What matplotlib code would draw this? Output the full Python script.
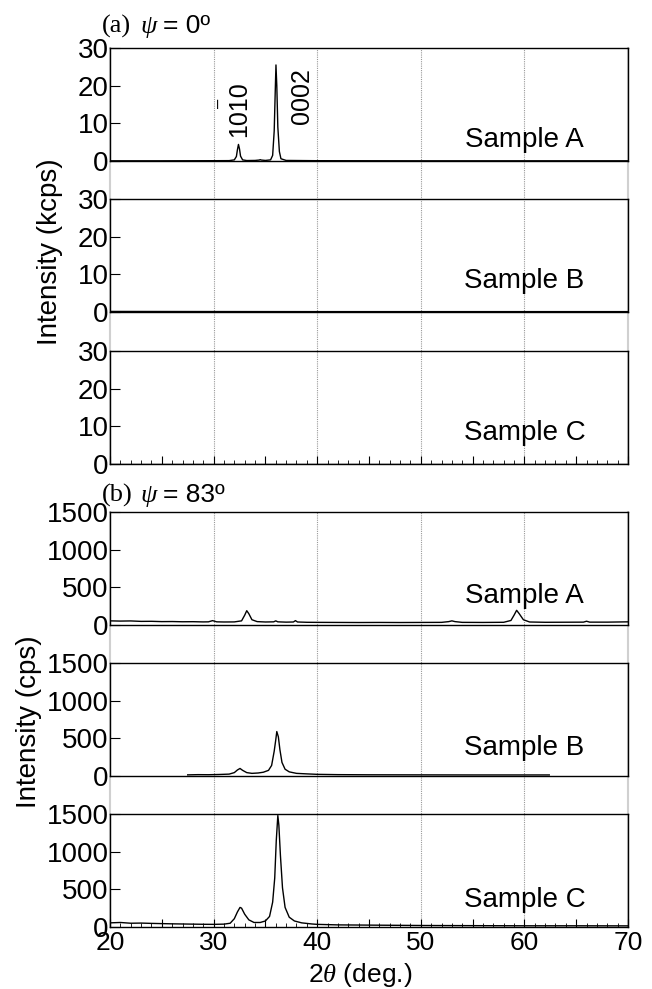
import matplotlib.pyplot as plt
from matplotlib.ticker import MultipleLocator, FuncFormatter

plt.rcParams['font.family'] = ['Liberation Sans', 'DejaVu Sans']
plt.rcParams['mathtext.fontset'] = 'custom'
plt.rcParams['mathtext.rm'] = 'Liberation Sans'
plt.rcParams['mathtext.it'] = 'Liberation Serif:italic'

# ---- (a) psi = 0 deg, intensity in kcps ----
tt_a_A = [20, 25, 30, 31.5, 32.0, 32.2, 32.3, 32.4, 32.5, 32.6, 32.8, 33.2, 34.0, 34.4,
          34.5, 34.6, 35.0, 35.5, 35.7, 35.85, 35.95, 36.02, 36.1, 36.2, 36.35, 36.5,
          37.0, 40, 50, 60, 70]
I_a_A = [0.05, 0.05, 0.08, 0.1, 0.3, 1.2, 3.0, 4.4, 3.2, 1.3, 0.3, 0.12, 0.15, 0.25,
         0.35, 0.25, 0.15, 0.3, 1.5, 8.0, 18.5, 25.5, 20.0, 9.0, 2.5, 0.6,
         0.15, 0.08, 0.05, 0.05, 0.05]

tt_a_B = [20, 30, 40, 50, 60, 70]
I_a_B = [0.15, 0.12, 0.1, 0.1, 0.1, 0.1]

tt_a_C = [20, 30, 40, 50, 60, 70]
I_a_C = [0.02, 0.02, 0.02, 0.02, 0.02, 0.02]

# ---- (b) psi = 83 deg, intensity in cps ----
tt_b_A = [20, 21, 22, 23, 24, 25, 26, 27, 28, 29, 29.5, 29.9, 30.3, 31, 32, 32.7, 33.0,
          33.2, 33.4, 33.7, 34.2, 35, 35.8, 36.0, 36.2, 37, 37.7, 37.9, 38.1, 39, 40,
          42, 44, 46, 48, 50, 52, 52.7, 53.0, 53.3, 54, 56, 58, 58.7, 59.0, 59.25,
          59.5, 59.9, 60.5, 62, 64, 65.7, 66.0, 66.3, 68, 70]
I_b_A = [55, 52, 54, 48, 49, 45, 46, 43, 44, 41, 42, 58, 42, 40, 41, 55, 130,
         190, 150, 70, 45, 40, 42, 55, 42, 38, 40, 58, 40, 36, 35,
         34, 33, 34, 33, 34, 35, 45, 55, 45, 35, 34, 36, 60, 130, 195,
         150, 70, 40, 36, 37, 38, 50, 38, 38, 42]

tt_b_B = [27.5, 28.5, 29.5, 30.5, 31.5, 32.0, 32.3, 32.55, 32.8, 33.2, 33.7, 34.3, 34.8,
          35.3, 35.6, 35.85, 36.0, 36.1, 36.25, 36.4, 36.6, 36.9, 37.3, 38, 39, 40,
          42, 45, 50, 55, 60, 62.4]
I_b_B = [15, 18, 17, 20, 25, 45, 80, 100, 75, 45, 35, 40, 50,
         75, 140, 330, 480, 590, 520, 350, 180, 90, 55, 35, 28, 22,
         18, 16, 15, 14, 14, 14]

tt_b_C = [20, 21, 22, 23, 24, 25, 26, 27, 28, 29, 30, 31, 31.6, 32.0, 32.3, 32.55, 32.7,
          33.0, 33.4, 33.9, 34.5, 35.0, 35.4, 35.7, 35.9, 36.05, 36.2, 36.3, 36.45,
          36.65, 36.9, 37.3, 37.8, 38.5, 39.5, 40, 42, 45, 48, 50, 55, 60, 65, 70]
I_b_C = [55, 60, 50, 52, 48, 45, 42, 40, 38, 36, 35, 38, 50, 110, 200, 260, 250,
         170, 95, 60, 60, 80, 140, 330, 650, 1150, 1480, 1350, 950,
         520, 260, 130, 80, 55, 40, 35, 28, 25, 22, 20, 18, 16, 16, 15]

samples = ['Sample A', 'Sample B', 'Sample C']
group_a = [(tt_a_A, I_a_A), (tt_a_B, I_a_B), (tt_a_C, I_a_C)]
group_b = [(tt_b_A, I_b_A), (tt_b_B, I_b_B), (tt_b_C, I_b_C)]
label_y_a = [0.125, 0.21, 0.21]
label_y_b = [0.195, 0.185, 0.18]

FIG_W, FIG_H = 652, 989
LEFT, RIGHT = 110, 628
PANEL_H = 113


def box(top, bottom):
    return [LEFT / FIG_W, 1 - bottom / FIG_H, (RIGHT - LEFT) / FIG_W, (bottom - top) / FIG_H]


fig = plt.figure(figsize=(FIG_W / 100, FIG_H / 100), dpi=100)


def background(top, bottom):
    bg = fig.add_axes(box(top, bottom), zorder=0)
    bg.set_xlim(20, 70)
    bg.set_xticks([30, 40, 50, 60])
    bg.set_yticks([])
    bg.tick_params(axis='x', length=0, labelbottom=False)
    bg.grid(axis='x', color='#999999', linestyle=(0, (1, 1)), linewidth=0.8)
    for side in ['top', 'bottom']:
        bg.spines[side].set_visible(False)
    for side in ['left', 'right']:
        bg.spines[side].set_color('#d0d0d0')
        bg.spines[side].set_linewidth(1.5)


def panel(top, data, ymax, yticks, name, label_y, bottom_panel, show_xlabels):
    ax = fig.add_axes(box(top, top + PANEL_H), zorder=2)
    ax.patch.set_alpha(0)
    tt, inten = data
    ax.plot(tt, inten, color='k', linewidth=1.0)
    ax.set_xlim(20, 70)
    ax.set_ylim(0, ymax)
    ax.set_yticks(yticks)
    ax.tick_params(axis='y', direction='in', length=7, labelsize=20, pad=1)
    for s in ax.spines.values():
        s.set_linewidth(1.0)
    if bottom_panel:
        ax.xaxis.set_major_locator(MultipleLocator(5))
        ax.xaxis.set_minor_locator(MultipleLocator(1))
        ax.xaxis.set_major_formatter(FuncFormatter(lambda v, p: f'{v:.0f}' if v % 10 == 0 else ''))
        ax.tick_params(axis='x', which='major', direction='in', length=6, labelsize=19,
                       labelbottom=show_xlabels, pad=3)
        ax.tick_params(axis='x', which='minor', direction='in', length=3)
    else:
        ax.set_xticks([])
    ax.text(0.80, label_y, name, transform=ax.transAxes, ha='center', va='baseline', fontsize=20)
    return ax


background(48, 464)
background(512, 927)

a_tops = [48, 199, 351]
b_tops = [512, 663, 814]
axes_a = []
for i in range(3):
    axes_a.append(panel(a_tops[i], group_a[i], 30, [0, 10, 20, 30], samples[i], label_y_a[i],
                        i == 2, False))
for i in range(3):
    panel(b_tops[i], group_b[i], 1500, [0, 500, 1000, 1500], samples[i], label_y_b[i],
          i == 2, i == 2)

# peak indices on (a) Sample A
axA = axes_a[0]
axA.text(32.45, 6.4, '1010', rotation=90, ha='center', va='bottom', fontsize=18)
axA.text(30.6, 15.4, '\u2013', rotation=90, ha='center', va='center', fontsize=12)
axA.text(38.5, 9.8, '0002', rotation=90, ha='center', va='bottom', fontsize=18)


def panel_title(y_px, letter, angle):
    fig.text(102 / FIG_W, 1 - y_px / FIG_H, letter, family='Liberation Serif',
             fontsize=19, va='baseline', ha='left')
    fig.text(140 / FIG_W, 1 - y_px / FIG_H, '\u03c8', family='Liberation Serif',
             style='italic', fontsize=19, va='baseline', ha='left')
    fig.text(163 / FIG_W, 1 - y_px / FIG_H, '= ' + angle + '\u00ba', fontsize=19,
             va='baseline', ha='left')


panel_title(33, '(a)', '0')
panel_title(502, '(b)', '83')

fig.text(50 / FIG_W, 1 - 252 / FIG_H, 'Intensity (kcps)', rotation=90, ha='center',
         va='center', fontsize=20)
fig.text(29 / FIG_W, 1 - 722 / FIG_H, 'Intensity (cps)', rotation=90, ha='center',
         va='center', fontsize=20)
fig.text(360 / FIG_W, 1 - 975 / FIG_H, '2$\\it{\\theta}$ (deg.)', ha='center', va='center',
         fontsize=19)

fig.savefig('out.png', dpi=100)
